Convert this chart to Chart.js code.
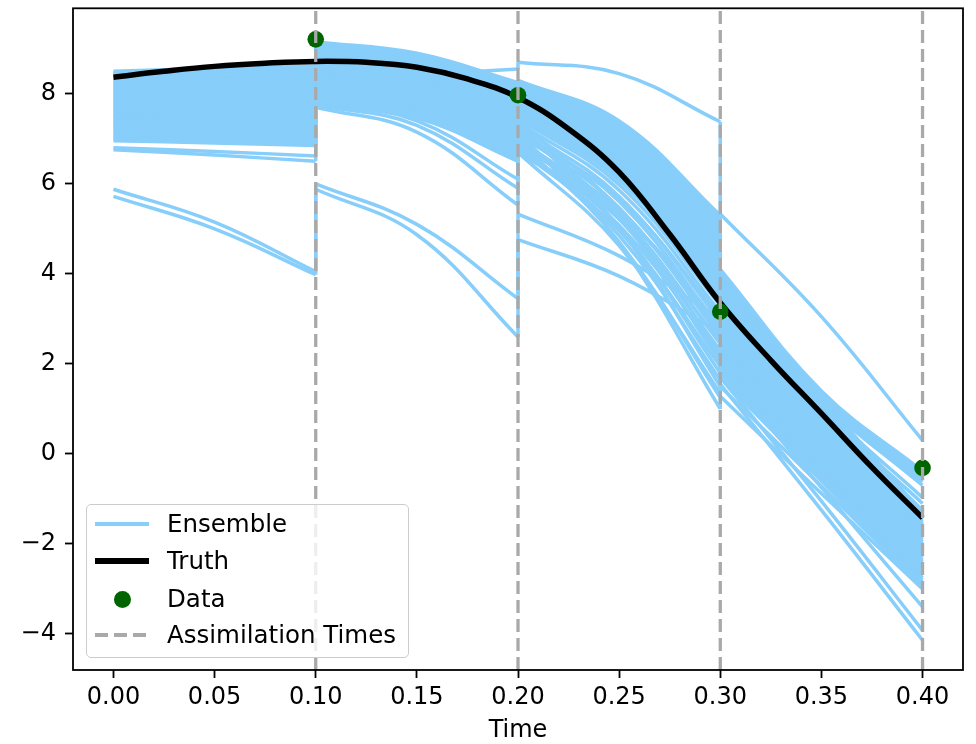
<!DOCTYPE html>
<html>
<head>
<meta charset="utf-8">
<script src="https://cdn.jsdelivr.net/npm/chart.js@4.4.1/dist/chart.umd.min.js"></script>
<style>
  body { margin: 0; background: #fff; }
  #wrap { position: relative; width: 976px; height: 744px; }
  #legend {
    position: absolute; left: 86px; top: 504px; width: 321px; height: 152px;
    border: 1px solid #cccccc; border-radius: 5px; background: rgba(255,255,255,0.8);
    font-family: 'DejaVu Sans', sans-serif; font-size: 24.5px; color: #000;
  }
  .row { position: absolute; left: 0; width: 100%; height: 30px; }
  .handle { position: absolute; left: 8px; width: 54px; top: 15px; }
  .label { position: absolute; left: 80px; top: 15px; transform: translateY(-50%); line-height: 1; white-space: nowrap; }
</style>
</head>
<body>
<div id="wrap">
  <canvas id="myChart" width="976" height="744"></canvas>
  <div id="legend"></div>
</div>
<script>
// axis ticks
const xTicks = [0, 0.05, 0.1, 0.15, 0.2, 0.25, 0.3, 0.35, 0.4];
const yTicks = [-4, -2, 0, 2, 4, 6, 8];
const xMin = -0.02, xMax = 0.42, yMin = -4.8, yMax = 9.9;

// observations at the assimilation times
const assimTimes = [0.1, 0.2, 0.3, 0.4];
const obsValues = [9.21, 7.97, 3.16, -0.31];

// truth trajectory
const truthTimes = [0, 0.025, 0.05, 0.075, 0.1, 0.125, 0.15, 0.175, 0.2, 0.225, 0.25, 0.275, 0.3, 0.325, 0.35, 0.375, 0.4];
const truthValues = [8.37, 8.50, 8.61, 8.68, 8.72, 8.70, 8.59, 8.33, 7.92, 7.22, 6.26, 4.88, 3.36, 2.08, 0.90, -0.30, -1.42];

// ensemble members: start / middle / end of each forecast window
const segTimes = [[0, 0.05, 0.1], [0.1, 0.15, 0.2], [0.2, 0.25, 0.3], [0.3, 0.35, 0.4]];
const seg1 = [
  [8.50, 8.57, 8.62], [8.47, 8.54, 8.58], [8.44, 8.50, 8.55], [8.41, 8.46, 8.50],
  [8.38, 8.43, 8.46], [8.34, 8.39, 8.42], [8.31, 8.35, 8.38], [8.28, 8.31, 8.33],
  [8.24, 8.27, 8.29], [8.21, 8.24, 8.25], [8.17, 8.20, 8.21], [8.14, 8.16, 8.17],
  [8.10, 8.12, 8.13], [8.07, 8.08, 8.09], [8.03, 8.04, 8.04], [8.00, 8.00, 8.00],
  [7.96, 7.96, 7.96], [7.93, 7.92, 7.92], [7.89, 7.88, 7.87], [7.85, 7.84, 7.83],
  [7.82, 7.80, 7.79], [7.78, 7.76, 7.74], [7.74, 7.72, 7.70], [7.71, 7.68, 7.66],
  [7.67, 7.64, 7.62], [7.63, 7.60, 7.57], [7.60, 7.56, 7.53], [7.56, 7.52, 7.49],
  [7.52, 7.48, 7.45], [7.49, 7.44, 7.40], [7.45, 7.40, 7.36], [7.41, 7.36, 7.32],
  [7.38, 7.33, 7.28], [7.34, 7.28, 7.23], [7.30, 7.24, 7.19], [7.27, 7.21, 7.15],
  [7.23, 7.17, 7.11], [7.19, 7.13, 7.06], [7.16, 7.09, 7.02], [7.12, 7.05, 6.98],
  [7.08, 7.01, 6.94], [7.04, 6.97, 6.90], [7.01, 6.94, 6.87], [6.96, 6.91, 6.85],
  [6.80, 6.72, 6.62], [6.76, 6.64, 6.50], [5.88, 5.15, 4.05], [5.72, 5.00, 3.98]
];
const seg2 = [
  [9.15, 8.90, 8.25], [9.12, 8.87, 8.21], [9.08, 8.83, 8.17], [9.05, 8.80, 8.13],
  [9.01, 8.76, 8.08], [8.98, 8.72, 8.04], [8.94, 8.69, 8.00], [8.91, 8.65, 7.96],
  [8.87, 8.62, 7.92], [8.25, 8.42, 8.55], [8.84, 8.58, 7.87], [8.80, 8.55, 7.83],
  [8.77, 8.51, 7.79], [8.73, 8.48, 7.75], [8.70, 8.44, 7.70], [8.66, 8.41, 7.66],
  [8.63, 8.37, 7.62], [8.59, 8.34, 7.58], [8.56, 8.30, 7.53], [8.52, 8.27, 7.49],
  [8.49, 8.23, 7.45], [8.45, 8.20, 7.41], [8.42, 8.16, 7.37], [8.38, 8.13, 7.32],
  [8.35, 8.09, 7.28], [8.31, 8.06, 7.24], [8.28, 8.02, 7.20], [8.24, 7.99, 7.15],
  [8.21, 7.95, 7.11], [8.17, 7.92, 7.07], [8.14, 7.88, 7.03], [8.10, 7.85, 6.98],
  [8.07, 7.81, 6.94], [8.03, 7.78, 6.90], [8.00, 7.74, 6.86], [7.96, 7.71, 6.81],
  [7.93, 7.67, 6.77], [7.89, 7.64, 6.73], [7.86, 7.60, 6.69], [7.82, 7.57, 6.64],
  [7.79, 7.53, 6.60], [7.75, 7.50, 6.55], [7.72, 7.46, 6.50], [7.80, 7.40, 6.10],
  [7.75, 7.30, 5.90], [7.70, 7.15, 5.53], [6.00, 5.10, 3.45], [5.88, 4.87, 2.60]
];
const seg3 = [
  [8.30, 7.40, 5.30], [8.26, 7.34, 5.22], [8.23, 7.29, 5.14], [8.19, 7.23, 5.06],
  [8.16, 7.17, 4.98], [8.12, 7.11, 4.90], [8.09, 7.06, 4.82], [8.05, 7.00, 4.74],
  [8.02, 6.94, 4.66], [8.70, 8.45, 7.38], [7.98, 6.88, 4.58], [7.95, 6.83, 4.50],
  [7.91, 6.77, 4.42], [7.88, 6.71, 4.34], [7.84, 6.65, 4.26], [7.81, 6.60, 4.18],
  [7.77, 6.54, 4.10], [7.74, 6.48, 4.02], [7.70, 6.42, 3.94], [7.67, 6.37, 3.86],
  [7.63, 6.31, 3.78], [7.60, 6.25, 3.70], [7.56, 6.19, 3.62], [7.53, 6.14, 3.54],
  [7.49, 6.08, 3.46], [7.45, 5.98, 3.30], [7.41, 5.41, 2.20], [7.37, 5.86, 3.15],
  [7.33, 5.02, 1.50], [7.29, 5.72, 2.95], [7.25, 5.25, 2.05], [7.21, 5.61, 2.80],
  [7.17, 4.69, 1.00], [7.13, 5.47, 2.60], [7.09, 5.67, 3.05], [7.05, 5.03, 1.80],
  [7.01, 5.33, 2.45], [6.97, 4.71, 1.25], [6.93, 5.22, 2.30], [6.89, 5.40, 2.70],
  [6.85, 4.85, 1.65], [6.81, 5.08, 2.15], [6.77, 4.96, 1.95], [6.73, 5.22, 2.50],
  [6.70, 4.63, 1.35], [6.68, 5.37, 2.85], [5.33, 4.40, 3.00], [4.76, 3.95, 2.70]
];
const seg4 = [
  [4.10, 1.40, -0.38], [4.05, 1.35, -0.45], [4.00, 1.30, -0.50], [3.95, 1.28, -0.55],
  [3.90, 1.25, -0.62], [3.85, 1.20, -0.70], [3.80, 1.10, -0.97], [3.75, 1.00, -1.10],
  [3.70, 0.92, -1.25], [5.33, 3.05, 0.30], [3.65, 1.22, -1.30], [3.59, 1.16, -1.35],
  [3.53, 1.12, -1.38], [3.47, 1.06, -1.45], [3.41, 1.00, -1.50], [3.35, 0.95, -1.55],
  [3.30, 0.90, -1.58], [3.24, 0.84, -1.64], [3.18, 0.78, -1.70], [3.12, 0.73, -1.74],
  [3.06, 0.67, -1.80], [3.00, 0.62, -1.85], [2.95, 0.56, -1.90], [2.89, 0.50, -1.95],
  [2.83, 0.45, -2.00], [2.77, 0.39, -2.06], [2.71, 0.33, -2.10], [2.65, 0.28, -2.15],
  [2.59, 0.22, -2.20], [2.53, 0.16, -2.26], [2.48, 0.11, -2.30], [2.42, 0.05, -2.36],
  [2.36, -0.01, -2.40], [2.30, -0.06, -2.46], [2.24, -0.12, -2.50], [2.18, -0.18, -2.56],
  [2.12, -0.23, -2.60], [2.06, -0.29, -2.66], [2.00, -0.35, -2.70], [1.94, -0.40, -2.75],
  [1.88, -0.46, -2.80], [1.80, -0.52, -2.85], [1.70, -0.60, -2.90], [1.50, -0.72, -2.95],
  [1.28, -0.88, -3.00], [1.90, -0.75, -3.40], [1.70, -1.05, -3.92], [1.55, -1.25, -4.14]
];

const ensembleColor = '#87cefa';
const truthColor = '#000000';
const dataColor = '#006400';
const assimColor = '#a9a9a9';
const font = { family: "'DejaVu Sans', sans-serif", size: 24 };

function buildDatasets() {
    const segs = [seg1, seg2, seg3, seg4];
    const datasets = [];
    // index 0 is drawn last, so the dashed lines come first
    assimTimes.forEach(t => {
        datasets.push({
            data: [{ x: t, y: yMin }, { x: t, y: yMax }],
            borderColor: assimColor, borderWidth: 3.3, borderDash: [13, 6],
            pointRadius: 0, tension: 0, clip: 0
        });
    });
    datasets.push({
        data: assimTimes.map((t, i) => ({ x: t, y: obsValues[i] })),
        showLine: false, pointRadius: 8.3, pointBackgroundColor: dataColor,
        pointBorderWidth: 0, borderColor: dataColor
    });
    datasets.push({
        data: truthTimes.map((t, i) => ({ x: t, y: truthValues[i] })),
        borderColor: truthColor, borderWidth: 5.5, pointRadius: 0, tension: 0.4
    });
    for (let i = 0; i < seg1.length; i++) {
        const curve = [];
        const jumps = [];
        segs.forEach((seg, k) => {
            if (k > 0) {
                const t = segTimes[k][0];
                curve.push({ x: t, y: null });
                jumps.push({ x: t, y: segs[k - 1][i][2] }, { x: t, y: seg[i][0] }, { x: t, y: null });
            }
            seg[i].forEach((v, j) => curve.push({ x: segTimes[k][j], y: v }));
        });
        datasets.push({
            data: curve, borderColor: ensembleColor, borderWidth: 3.5,
            pointRadius: 0, tension: 0.4
        });
        datasets.push({
            data: jumps, borderColor: ensembleColor, borderWidth: 3.5,
            pointRadius: 0, tension: 0
        });
    }
    return datasets;
}

const framePlugin = {
    id: 'frame',
    afterDraw(chart) {
        const { ctx, chartArea: a } = chart;
        ctx.save();
        ctx.strokeStyle = '#000';
        ctx.lineWidth = 1.8;
        ctx.strokeRect(a.left, a.top, a.right - a.left, a.bottom - a.top);
        ctx.restore();
    }
};

const tickGrid = { drawOnChartArea: false, drawTicks: true, tickLength: 8, tickColor: '#000', tickWidth: 1.8 };

new Chart(document.getElementById('myChart').getContext('2d'), {
    type: 'line',
    data: { datasets: buildDatasets() },
    options: {
        responsive: false,
        animation: false,
        events: [],
        layout: { padding: { top: 6, right: 13, left: 0, bottom: 0 } },
        plugins: { legend: { display: false }, tooltip: { enabled: false } },
        scales: {
            x: {
                type: 'linear', min: xMin, max: xMax,
                afterBuildTicks: s => { s.ticks = xTicks.map(v => ({ value: v })); },
                afterFit: s => { s.height = 74; s.paddingLeft = 0; s.paddingRight = 0; },
                ticks: { callback: v => v.toFixed(2), font: font, color: '#000', padding: 5, maxRotation: 0, autoSkip: false },
                grid: tickGrid,
                border: { display: false },
                title: { display: true, text: 'Time', font: { family: font.family, size: 24, lineHeight: 1 }, color: '#000', padding: { top: 0, bottom: 1 } }
            },
            y: {
                type: 'linear', min: yMin, max: yMax,
                afterBuildTicks: s => { s.ticks = yTicks.map(v => ({ value: v })); },
                afterFit: s => { s.width = 73; s.paddingTop = 0; s.paddingBottom = 0; },
                ticks: { callback: v => (v < 0 ? '\u2212' + (-v) : String(v)), font: font, color: '#000', padding: 9, autoSkip: false },
                grid: tickGrid,
                border: { display: false }
            }
        }
    },
    plugins: [framePlugin]
});

// legend drawn as html inside the axes
const legendItems = [
    { label: 'Ensemble', top: 4, handle: `<div class="handle" style="height:3.5px;margin-top:-1.75px;background:${ensembleColor}"></div>` },
    { label: 'Truth', top: 41, handle: `<div class="handle" style="height:5.5px;margin-top:-2.75px;background:${truthColor}"></div>` },
    { label: 'Data', top: 79, handle: `<div class="handle" style="left:27px;width:17px;height:17px;margin-top:-8.5px;border-radius:50%;background:${dataColor}"></div>` },
    { label: 'Assimilation Times', top: 115, handle: `<div class="handle" style="height:3.3px;margin-top:-1.65px;background:repeating-linear-gradient(to right, ${assimColor} 0 13px, transparent 13px 19px)"></div>` }
];
document.getElementById('legend').innerHTML = legendItems.map(it =>
    `<div class="row" style="top:${it.top}px">${it.handle}<span class="label">${it.label}</span></div>`
).join('');
</script>
</body>
</html>
